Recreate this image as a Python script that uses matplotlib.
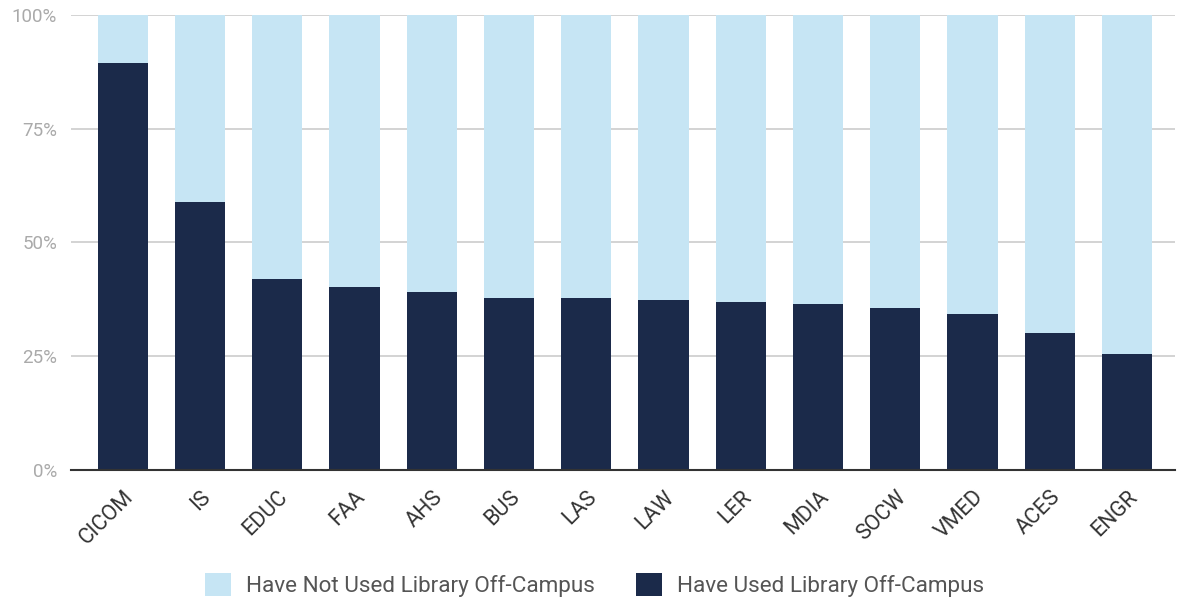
import matplotlib
matplotlib.use("Agg")
import matplotlib.pyplot as plt
from matplotlib.ticker import FuncFormatter

categories = ["CICOM", "IS", "EDUC", "FAA", "AHS", "BUS", "LAS", "LAW", "LER",
              "MDIA", "SOCW", "VMED", "ACES", "ENGR"]
used = [89.4, 58.9, 42.0, 40.2, 39.1, 37.8, 37.8, 37.4, 36.9, 36.5, 35.6, 34.3, 30.1, 25.5]
not_used = [100 - v for v in used]

plt.rcParams['font.family'] = ['Roboto', 'DejaVu Sans']

fig = plt.figure(figsize=(11.82, 5.99), dpi=100)
ax = fig.add_axes([0.060, 0.2154, 0.934, 0.7596])

dark = "#1b2a4a"
light = "#c6e5f4"
x = range(len(categories))
ax.bar(x, used, width=0.65, color=dark, label="Have Used Library Off-Campus", zorder=3)
ax.bar(x, not_used, width=0.65, bottom=used, color=light,
       label="Have Not Used Library Off-Campus", zorder=3)

ax.set_xlim(-0.67, 13.62)
ax.set_ylim(0, 100)
ax.set_yticks([0, 25, 50, 75, 100])
ax.yaxis.set_major_formatter(FuncFormatter(lambda v, p: f"{int(v)}%"))
ax.grid(axis='y', color="#cccccc", linewidth=1.2, zorder=0)
for s in ["top", "right", "left"]:
    ax.spines[s].set_visible(False)
ax.spines["bottom"].set_color("#333333")
ax.spines["bottom"].set_linewidth(1.5)
ax.spines["bottom"].set_zorder(4)
ax.tick_params(axis='y', length=0, labelsize=13.5, labelcolor="#aaaaaa", pad=10)
ax.tick_params(axis='x', length=0, labelsize=15.5, labelcolor="#333333", pad=12)
ax.set_xticks(list(x))
ax.set_xticklabels(categories, rotation=45, ha='right', rotation_mode='anchor')

handles, labels = ax.get_legend_handles_labels()
leg = fig.legend(handles[::-1], labels[::-1], loc='lower center', ncol=2,
                 bbox_to_anchor=(0.503, -0.023), borderaxespad=0.3, frameon=False, fontsize=16.2,
                 handlelength=1.15, handleheight=1.15, columnspacing=1.8,
                 handletextpad=0.7, labelcolor="#555555")

fig.savefig("out.png", dpi=100)
